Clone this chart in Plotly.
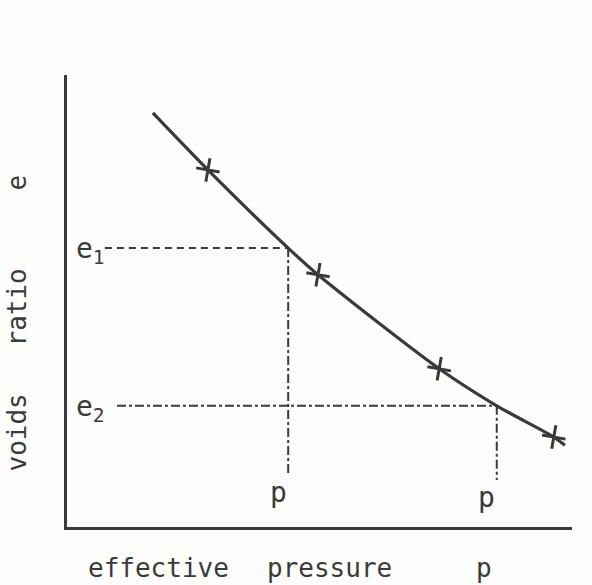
import plotly.graph_objects as go

# compression curve (voids ratio vs effective pressure), abstract units
curve_p = [1.70, 2.79, 4.38, 4.97, 7.37, 8.51, 9.64, 9.86]
curve_e = [9.16, 7.90, 6.17, 5.58, 3.50, 2.68, 1.99, 1.81]

# test points marked with crosses
test_p = [2.79, 4.97, 7.37, 9.64]
test_e = [7.90, 5.58, 3.50, 1.99]

# construction lines
e_levels = [6.17, 2.68]
p_levels = [4.38, 8.51]
e_labels = ["e<sub>1</sub>", "e<sub>2</sub>"]
p_labels = ["p", "p"]
h_start = [0.75, 0.99]
v_end = [1.15, 1.04]

ink = "#3a3a3a"
font = "DejaVu Sans Mono"

fig = go.Figure()

dashes = ["7px,5px", "dashdot"]
for i in range(2):
    fig.add_trace(go.Scatter(x=[h_start[i], p_levels[i]], y=[e_levels[i], e_levels[i]],
                             mode="lines", line=dict(color=ink, width=2, dash=dashes[i]),
                             hoverinfo="skip", showlegend=False))
    fig.add_trace(go.Scatter(x=[p_levels[i], p_levels[i]], y=[e_levels[i], v_end[i]],
                             mode="lines", line=dict(color=ink, width=2, dash="dashdot"),
                             hoverinfo="skip", showlegend=False))

fig.add_trace(go.Scatter(x=curve_p, y=curve_e, mode="lines",
                         line=dict(color=ink, width=3.2, shape="spline", smoothing=0.8),
                         showlegend=False))
fig.add_trace(go.Scatter(x=test_p, y=test_e, mode="markers",
                         marker=dict(symbol="cross-thin", size=17, angle=10,
                                     line=dict(color=ink, width=3)),
                         showlegend=False))

ann = []
for i in range(2):
    ann.append(dict(x=0.47, y=e_levels[i] - 0.05, xref="x", yref="y", text=e_labels[i],
                    showarrow=False, xanchor="center", yanchor="middle",
                    font=dict(family=font, size=28, color=ink)))
    ann.append(dict(x=p_levels[i] - 0.2, y=v_end[i] + 0.02, xref="x", yref="y", text=p_labels[i],
                    showarrow=False, xanchor="center", yanchor="top",
                    font=dict(family=font, size=28, color=ink)))

# axis titles
xt = [("effective", 158), ("pressure", 329), ("p", 484)]
for t, px in xt:
    ann.append(dict(x=(px - 67) / 505, y=-0.09, xref="paper", yref="paper", text=t,
                    showarrow=False, xanchor="center", yanchor="middle",
                    font=dict(family=font, size=26, color=ink)))
yt = [("voids", 433), ("ratio", 308), ("e", 183)]
for t, py in yt:
    ann.append(dict(x=-0.1, y=(527 - py) / 452, xref="paper", yref="paper", text=t,
                    showarrow=False, xanchor="center", yanchor="middle", textangle=-90,
                    font=dict(family=font, size=26, color=ink)))

fig.update_layout(
    width=592, height=585,
    margin=dict(l=67, r=20, t=75, b=58),
    paper_bgcolor="#fdfdfb", plot_bgcolor="#fdfdfb",
    xaxis=dict(range=[0, 10], showgrid=False, zeroline=False, showticklabels=False,
               ticks="", showline=True, linecolor=ink, linewidth=3),
    yaxis=dict(range=[0, 10], showgrid=False, zeroline=False, showticklabels=False,
               ticks="", showline=True, linecolor=ink, linewidth=3),
    annotations=ann,
)

fig.write_html("out.html", config={"displayModeBar": False},
               post_script="document.body.style.margin='0';")
